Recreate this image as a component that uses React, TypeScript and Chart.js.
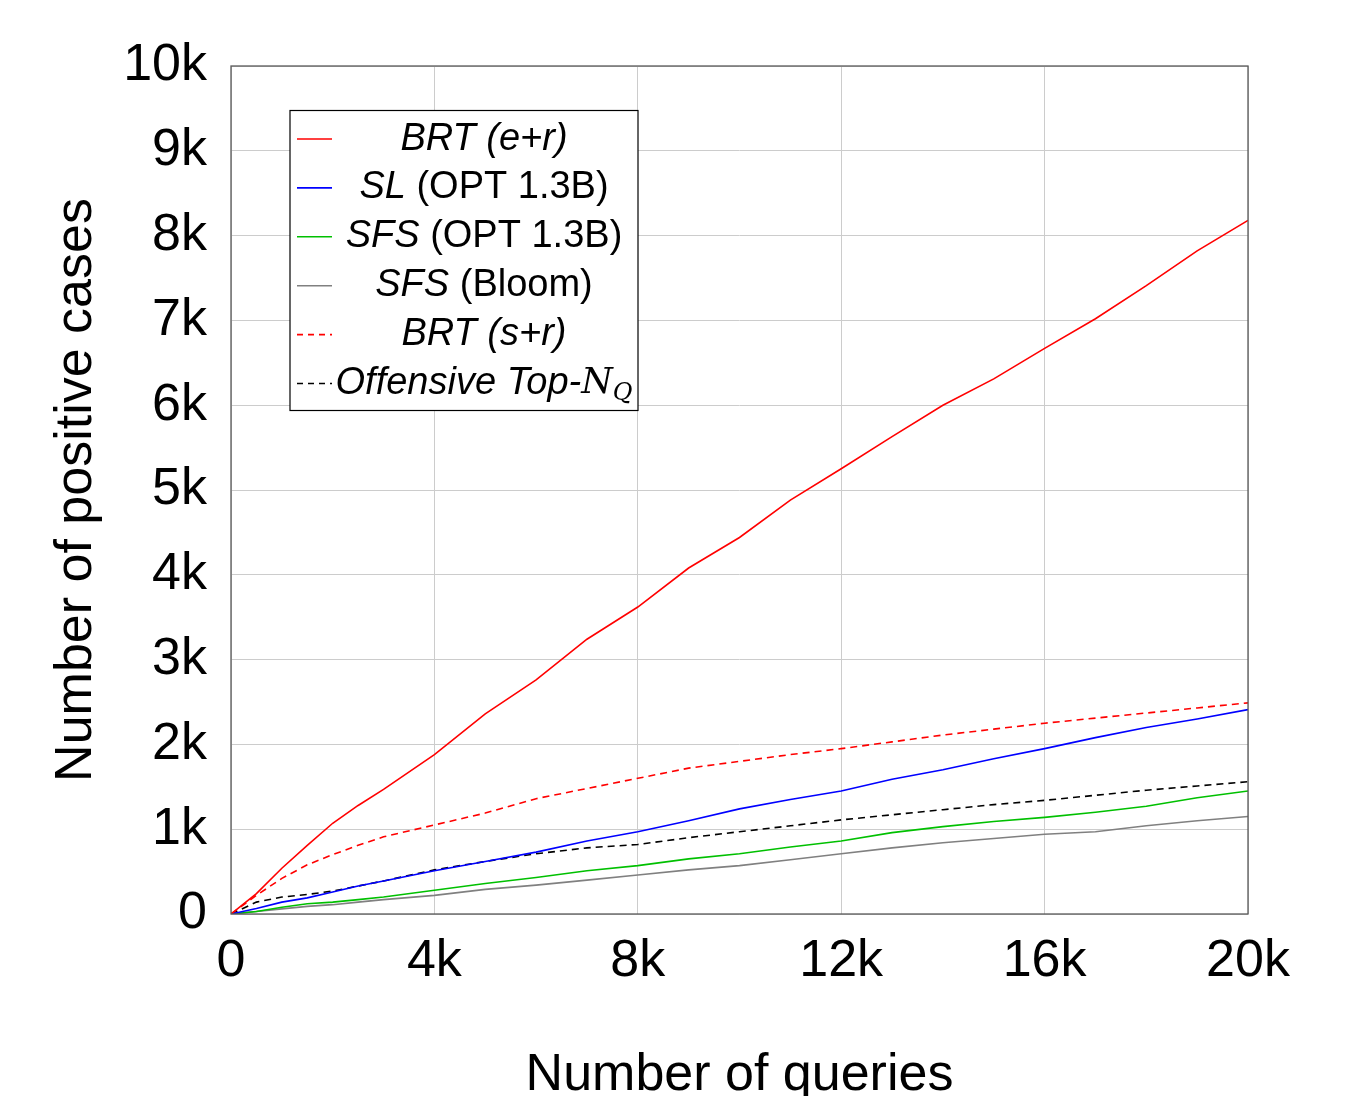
import React, { useEffect, useRef } from "react";
import { Chart, registerables } from "chart.js";

Chart.register(...registerables);

const queries = [0, 500, 1000, 1500, 2000, 2500, 3000, 4000, 5000, 6000, 7000, 8000, 9000, 10000, 11000, 12000, 13000, 14000, 15000, 16000, 17000, 18000, 19000, 20000];

const brtER = [0, 240, 540, 810, 1070, 1280, 1470, 1880, 2360, 2760, 3240, 3620, 4080, 4440, 4880, 5250, 5630, 6000, 6310, 6670, 7020, 7410, 7820, 8180];
const slOpt = [0, 65, 140, 190, 260, 330, 390, 510, 620, 730, 860, 970, 1100, 1240, 1350, 1450, 1590, 1700, 1830, 1950, 2080, 2200, 2300, 2410];
const sfsOpt = [0, 30, 80, 120, 140, 170, 200, 280, 360, 430, 510, 570, 650, 710, 790, 860, 960, 1030, 1090, 1140, 1200, 1270, 1370, 1450];
const sfsBloom = [0, 30, 60, 90, 110, 140, 170, 220, 290, 340, 400, 460, 520, 570, 640, 710, 780, 840, 890, 940, 970, 1040, 1100, 1150];
const brtSR = [0, 220, 420, 580, 700, 810, 910, 1050, 1190, 1360, 1480, 1600, 1720, 1800, 1880, 1950, 2030, 2110, 2180, 2250, 2310, 2370, 2430, 2490];
const offensiveTopN = [0, 140, 200, 230, 270, 330, 390, 520, 620, 710, 780, 820, 900, 970, 1040, 1110, 1170, 1230, 1290, 1340, 1400, 1460, 1510, 1560];

const xTickLabels = ["0", "4k", "8k", "12k", "16k", "20k"];
const yTickLabels = ["0", "1k", "2k", "3k", "4k", "5k", "6k", "7k", "8k", "9k", "10k"];

const xTitle = "Number of queries";
const yTitle = "Number of positive cases";

type Seg = { t: string; italic?: boolean; math?: boolean; sub?: boolean };
const legendRows: { color: string; dash: number[]; segs: Seg[] }[] = [
  { color: "#ff0000", dash: [], segs: [{ t: "BRT (e+r)", italic: true }] },
  { color: "#0000ff", dash: [], segs: [{ t: "SL", italic: true }, { t: " (OPT 1.3B)" }] },
  { color: "#00c000", dash: [], segs: [{ t: "SFS", italic: true }, { t: " (OPT 1.3B)" }] },
  { color: "#808080", dash: [], segs: [{ t: "SFS", italic: true }, { t: " (Bloom)" }] },
  { color: "#ff0000", dash: [6, 5], segs: [{ t: "BRT (s+r)", italic: true }] },
  { color: "#000000", dash: [6, 5], segs: [{ t: "Offensive Top-", italic: true }, { t: "N", math: true }, { t: "Q", math: true, sub: true }] },
];

const FONT = "'Liberation Sans', Arial, sans-serif";

function toPoints(ys: number[]) {
  return queries.map((x, i) => ({ x, y: ys[i] }));
}

const framePlugin = {
  id: "frame",
  afterDatasetsDraw(chart: any) {
    const { ctx, chartArea: a } = chart;
    ctx.save();
    ctx.strokeStyle = "#5a5a5a";
    ctx.lineWidth = 1.3;
    ctx.strokeRect(a.left, a.top, a.right - a.left, a.bottom - a.top);
    ctx.restore();
  },
};

const legendPlugin = {
  id: "customLegend",
  afterDraw(chart: any) {
    const { ctx } = chart;
    const x0 = 290, y0 = 110.5, w = 348, h = 300;
    ctx.save();
    ctx.fillStyle = "#ffffff";
    ctx.fillRect(x0, y0, w, h);
    ctx.strokeStyle = "#000000";
    ctx.lineWidth = 1.2;
    ctx.strokeRect(x0, y0, w, h);
    const rowStart = 139, rowGap = 48.9;
    const size = 38;
    legendRows.forEach((row, i) => {
      const y = rowStart + i * rowGap;
      ctx.strokeStyle = row.color;
      ctx.lineWidth = 1.6;
      ctx.setLineDash(row.dash);
      ctx.beginPath();
      ctx.moveTo(297, y);
      ctx.lineTo(332, y);
      ctx.stroke();
      ctx.setLineDash([]);
      const fontFor = (s: Seg) =>
        s.math
          ? `italic ${s.sub ? 24 : 36}px 'DejaVu Serif', 'Liberation Serif', serif`
          : `${s.italic ? "italic " : ""}${size}px ${FONT}`;
      let total = 0;
      row.segs.forEach((s) => {
        ctx.font = fontFor(s);
        total += ctx.measureText(s.t).width;
      });
      let x = 484 - total / 2;
      ctx.fillStyle = "#000000";
      ctx.textBaseline = "middle";
      ctx.textAlign = "left";
      row.segs.forEach((s) => {
        ctx.font = fontFor(s);
        ctx.fillText(s.t, x, s.sub ? y + 10 : y);
        x += ctx.measureText(s.t).width;
      });
    });
    ctx.restore();
  },
};

export default function App() {
  const ref = useRef<HTMLCanvasElement | null>(null);
  useEffect(() => {
    if (!ref.current) return;
    const mk = (label: string, ys: number[], color: string, dash: number[] = []) => ({
      label,
      data: toPoints(ys),
      borderColor: color,
      backgroundColor: color,
      borderWidth: 1.6,
      borderDash: dash,
      pointRadius: 0,
      tension: 0,
      fill: false,
    });
    const chart = new Chart(ref.current, {
      type: "line",
      data: {
        datasets: [
          mk("BRT (e+r)", brtER, "#ff0000"),
          mk("SL (OPT 1.3B)", slOpt, "#0000ff"),
          mk("SFS (OPT 1.3B)", sfsOpt, "#00c000"),
          mk("SFS (Bloom)", sfsBloom, "#808080"),
          mk("BRT (s+r)", brtSR, "#ff0000", [7, 5]),
          mk("Offensive Top-NQ", offensiveTopN, "#000000", [7, 5]),
        ],
      },
      options: {
        animation: false,
        responsive: false,
        maintainAspectRatio: false,
        layout: { padding: { top: 66, right: 105, bottom: 0, left: 0 } },
        plugins: { legend: { display: false }, tooltip: { enabled: false }, title: { display: false } },
        scales: {
          x: {
            type: "linear",
            min: 0,
            max: 20000,
            afterFit: (s: any) => {
              s.height = 182;
            },
            afterBuildTicks: (s: any) => {
              s.ticks = xTickLabels.map((_, i) => ({ value: i * 4000 }));
            },
            ticks: {
              autoSkip: false,
              maxRotation: 0,
              padding: 16,
              color: "#000",
              font: { family: FONT, size: 52 },
              callback: (_v: any, i: number) => xTickLabels[i],
            },
            grid: { color: "#cccccc", lineWidth: 1, drawTicks: false },
            border: { display: false },
            title: {
              display: true,
              text: xTitle,
              color: "#000",
              font: { family: FONT, size: 52, lineHeight: 0.8 },
              padding: { top: 0, bottom: 0 },
            },
          },
          y: {
            type: "linear",
            min: 0,
            max: 10000,
            afterFit: (s: any) => {
              s.width = 231;
            },
            afterBuildTicks: (s: any) => {
              s.ticks = yTickLabels.map((_, i) => ({ value: i * 1000 }));
            },
            ticks: {
              autoSkip: false,
              padding: 24,
              color: "#000",
              font: { family: FONT, size: 52 },
              callback: (_v: any, i: number) => yTickLabels[i],
            },
            grid: { color: "#cccccc", lineWidth: 1, drawTicks: false },
            border: { display: false },
            title: {
              display: true,
              text: yTitle,
              color: "#000",
              font: { family: FONT, size: 52, lineHeight: 0.8 },
              padding: { top: 56, bottom: 0 },
            },
          },
        },
      },
      plugins: [framePlugin, legendPlugin],
    } as any);
    return () => chart.destroy();
  }, []);
  return (
    <div style={{ position: "absolute", left: 0, top: 0, width: 1353, height: 1096, background: "#fff" }}>
      <canvas ref={ref} width={1353} height={1096} style={{ display: "block" }} />
    </div>
  );
}
